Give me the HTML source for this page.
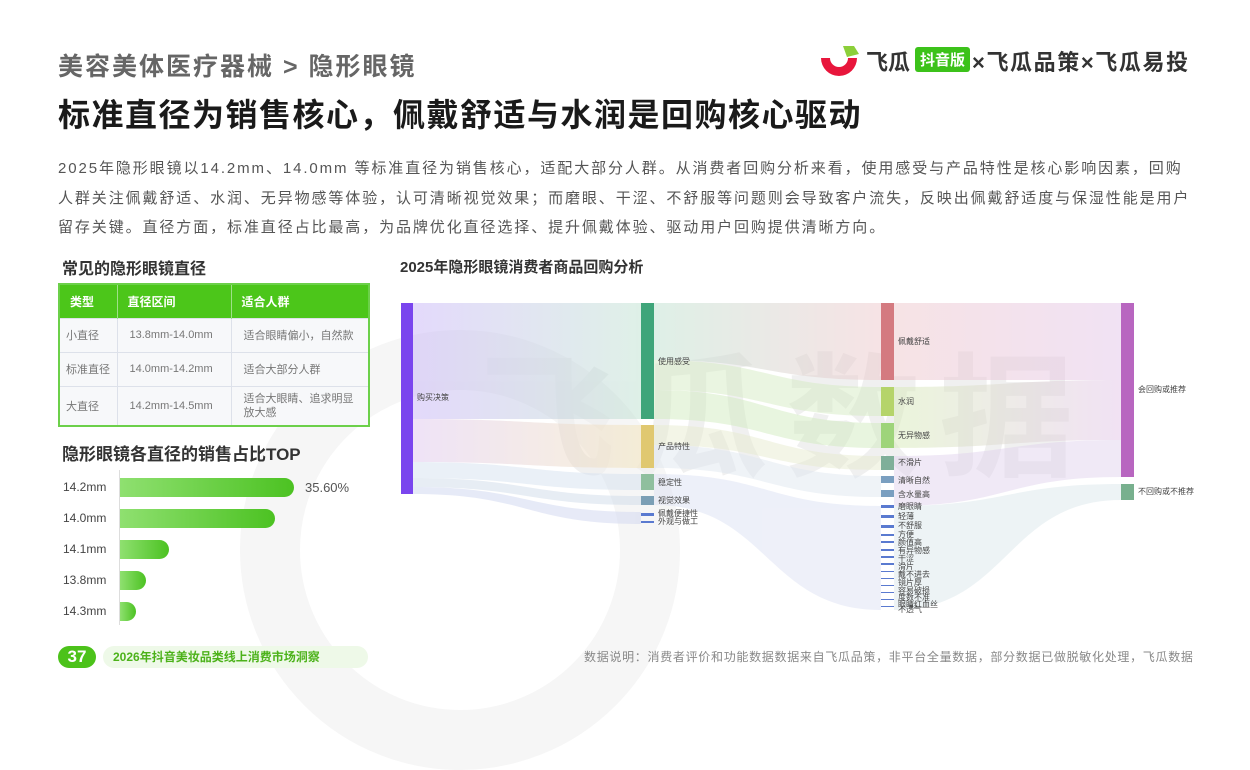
<!DOCTYPE html>
<html><head><meta charset="utf-8"><style>
*{margin:0;padding:0;box-sizing:border-box}
body{width:1250px;height:703px;background:#fff;font-family:"Liberation Sans","Noto Sans CJK SC",sans-serif;position:relative;overflow:hidden;color:#333}
.a{position:absolute;white-space:nowrap}
table{border-collapse:collapse;position:absolute;left:58px;top:283px;width:312px;border:2px solid #6cd04a}
td{border:1px solid #dde1ea;font-size:11px;color:#777;padding-left:6px;background:#f7f8fa}
th{background:#4cc61a;color:#fff;font-size:12px;text-align:left;padding-left:10px;height:34px;border-right:1px solid #9fe08a}
.bar{position:absolute;left:120px;height:19px;border-radius:0 10px 10px 0;background:linear-gradient(90deg,#8fe070,#4cc222)}
.bl{position:absolute;left:63px;font-size:12px;color:#444}
</style></head><body>
<div class="a" style="left:240px;top:330px;width:440px;height:440px;border-radius:50%;border:60px solid #f6f6f6;z-index:0"></div>
<div class="a" style="left:480px;top:345px;font-size:135px;line-height:150px;font-weight:bold;color:#f0f0f0;letter-spacing:18px;z-index:0">飞瓜数据</div>

<div class="a" style="left:58px;top:47px;font-size:25px;font-weight:bold;color:#666;letter-spacing:2px">美容美体医疗器械 &gt; 隐形眼镜</div>
<div class="a" style="left:58px;top:90px;font-size:32px;font-weight:bold;color:#1a1a1a;letter-spacing:1.5px">标准直径为销售核心，佩戴舒适与水润是回购核心驱动</div>
<div class="a" style="left:819px;top:44px;width:40px;height:32px">
<svg width="42" height="34"><path d="M2 14 A18 18 0 0 0 38 14 L29 14 A9 9 0 0 1 11 14 Z" fill="#e8163c"/><path d="M24 2 L35 2 L40 10 L28 13 Z" fill="#8ccf3a"/></svg></div>
<div class="a" style="left:866px;top:45px;font-size:22px;font-weight:bold;color:#333">飞瓜</div>
<div class="a" style="left:915px;top:47px;background:#3cc21a;color:#fff;font-size:15px;font-weight:bold;padding:2px 5px;border-radius:3px">抖音版</div>
<div class="a" style="left:972px;top:45px;font-size:22px;font-weight:bold;color:#333;letter-spacing:1.6px">×飞瓜品策×飞瓜易投</div>

<div class="a" style="left:58px;top:154px;width:1140px;white-space:normal;font-size:15px;line-height:29.5px;color:#555;letter-spacing:1.9px">2025年隐形眼镜以14.2mm、14.0mm 等标准直径为销售核心，适配大部分人群。从消费者回购分析来看，使用感受与产品特性是核心影响因素，回购人群关注佩戴舒适、水润、无异物感等体验，认可清晰视觉效果；而磨眼、干涩、不舒服等问题则会导致客户流失，反映出佩戴舒适度与保湿性能是用户留存关键。直径方面，标准直径占比最高，为品牌优化直径选择、提升佩戴体验、驱动用户回购提供清晰方向。</div>

<div class="a" style="left:62px;top:255px;font-size:16px;font-weight:bold;color:#333">常见的隐形眼镜直径</div>
<table>
<tr><th style="width:58px">类型</th><th style="width:114px">直径区间</th><th>适合人群</th></tr>
<tr style="height:34px"><td>小直径</td><td style="padding-left:12px">13.8mm-14.0mm</td><td style="padding-left:12px">适合眼睛偏小，自然款</td></tr>
<tr style="height:34px"><td>标准直径</td><td style="padding-left:12px">14.0mm-14.2mm</td><td style="padding-left:12px">适合大部分人群</td></tr>
<tr style="height:40px"><td>大直径</td><td style="padding-left:12px">14.2mm-14.5mm</td><td style="padding-left:12px;white-space:normal;line-height:14px">适合大眼睛、追求明显<br>放大感</td></tr>
</table>
<div class="a" style="left:62px;top:440px;font-size:17px;font-weight:bold;color:#333">隐形眼镜各直径的销售占比TOP</div>
<div class="a" style="left:119px;top:470px;width:1px;height:155px;background:#ddd"></div>
<div class="bl" style="top:480px">14.2mm</div><div class="bar" style="top:478px;width:174px"></div><div class="a" style="left:305px;top:480px;font-size:13px;color:#555">35.60%</div>
<div class="bl" style="top:511px">14.0mm</div><div class="bar" style="top:509px;width:155px"></div>
<div class="bl" style="top:542px">14.1mm</div><div class="bar" style="top:540px;width:49px"></div>
<div class="bl" style="top:573px">13.8mm</div><div class="bar" style="top:571px;width:26px"></div>
<div class="bl" style="top:604px">14.3mm</div><div class="bar" style="top:602px;width:16px"></div>

<div class="a" style="left:58px;top:646px;width:38px;height:22px;border-radius:11px;background:#4cc21a;color:#fff;font-weight:bold;font-size:17px;text-align:center;line-height:22px">37</div>
<div class="a" style="left:103px;top:646px;width:265px;height:22px;border-radius:11px;background:#eef9e8;color:#4cb21a;font-weight:bold;font-size:12px;line-height:22px;padding-left:10px">2026年抖音美妆品类线上消费市场洞察</div>
<div class="a" style="left:584px;top:648px;font-size:12px;color:#888;letter-spacing:0.7px">数据说明：消费者评价和功能数据数据来自飞瓜品策，非平台全量数据，部分数据已做脱敏化处理，飞瓜数据</div>

<div class="a" style="left:400px;top:256px;font-size:15px;font-weight:bold;color:#333">2025年隐形眼镜消费者商品回购分析</div>

<svg class="a" style="left:0;top:0" width="1250" height="703" font-family="Liberation Sans,Noto Sans CJK SC,sans-serif" font-size="8" fill="#444">
<defs>
<linearGradient id="g1"><stop offset="0" stop-color="#c8b4f8"/><stop offset="1" stop-color="#bfe2d0"/></linearGradient>
<linearGradient id="g2"><stop offset="0" stop-color="#e0c8f0"/><stop offset="1" stop-color="#f3e4b8"/></linearGradient>
<linearGradient id="g3"><stop offset="0" stop-color="#bfe2d0"/><stop offset="1" stop-color="#efc8cc"/></linearGradient>
<linearGradient id="g4"><stop offset="0" stop-color="#efc8cc"/><stop offset="1" stop-color="#e4c6ea"/></linearGradient>
<linearGradient id="g5"><stop offset="0" stop-color="#d8ecb8"/><stop offset="1" stop-color="#e4c6ea"/></linearGradient>
</defs>
<g opacity="0.5">
<path d="M413 303 L641 303 L641 419 L413 419Z" fill="url(#g1)"/>
<path d="M413 419 C527 419 527 425 641 425 L641 468 C527 468 527 462 413 462Z" fill="url(#g2)"/>
<path d="M413 462 C527 462 527 474 641 474 L641 490 C527 490 527 478 413 478Z" fill="#d6e2f0"/>
<path d="M413 478 C527 478 527 496 641 496 L641 505 C527 505 527 487 413 487Z" fill="#d0dcea"/>
<path d="M413 487 C527 487 527 512 641 512 L641 524 C527 524 527 494 413 494Z" fill="#cfd6f0"/>
<path d="M654 303 L881 303 L881 380 C767 380 767 360 654 360Z" fill="url(#g3)"/>
<path d="M654 360 C767 360 767 387 881 387 L881 416 C767 416 767 390 654 390Z" fill="#d6ecc4"/>
<path d="M654 390 C767 390 767 423 881 423 L881 448 C767 448 767 419 654 419Z" fill="#d2ecc0"/>
<path d="M654 425 C767 425 767 456 881 456 L881 470 C767 470 767 445 654 445Z" fill="#e8ecd0"/>
<path d="M654 445 C767 445 767 476 881 476 L881 497 C767 497 767 468 654 468Z" fill="#e0e8f0"/>
<path d="M654 474 C767 474 767 506 881 506 L881 610 C767 610 767 505 654 505Z" fill="#dde2f4"/>
<path d="M894 303 L1121 303 L1121 380 L894 380Z" fill="url(#g4)"/>
<path d="M894 387 C1007 387 1007 380 1121 380 L1121 440 C1007 440 1007 448 894 448Z" fill="url(#g5)"/>
<path d="M894 456 C1007 456 1007 440 1121 440 L1121 477 C1007 477 1007 506 894 506Z" fill="#e2d4ee"/>
<path d="M894 506 C1007 506 1007 484 1121 484 L1121 500 C1007 500 1007 610 894 610Z" fill="#dce8ec"/>
</g>
<rect x="401" y="303" width="12" height="191" fill="#7a45ee"/>
<rect x="641" y="303" width="13" height="116" fill="#3fa57a"/>
<rect x="641" y="425" width="13" height="43" fill="#e0c870"/>
<rect x="641" y="474" width="13" height="16" fill="#8fbf9e"/>
<rect x="641" y="496" width="13" height="9" fill="#7b9fb5"/>
<rect x="641" y="513" width="13" height="3" fill="#5a7ad0"/>
<rect x="641" y="521" width="13" height="2" fill="#5a7ad0"/>
<rect x="881" y="303" width="13" height="77" fill="#d47a80"/>
<rect x="881" y="387" width="13" height="29" fill="#b5d46a"/>
<rect x="881" y="423" width="13" height="25" fill="#9ed47a"/>
<rect x="881" y="456" width="13" height="14" fill="#7faf99"/>
<rect x="881" y="476" width="13" height="7" fill="#7a9fc0"/>
<rect x="881" y="490" width="13" height="7" fill="#7a9fc0"/>
<g fill="#5a7ad0"><rect x="881" y="505" width="13" height="3"/><rect x="881" y="515" width="13" height="3"/><rect x="881" y="525" width="13" height="3"/><rect x="881" y="534" width="13" height="2"/><rect x="881" y="541" width="13" height="2"/><rect x="881" y="549" width="13" height="2"/><rect x="881" y="556" width="13" height="2"/><rect x="881" y="563" width="13" height="2"/><rect x="881" y="571" width="13" height="1"/><rect x="881" y="578" width="13" height="1"/><rect x="881" y="585" width="13" height="1"/><rect x="881" y="592" width="13" height="1"/><rect x="881" y="599" width="13" height="1"/><rect x="881" y="606" width="13" height="1"/></g>
<rect x="1121" y="303" width="13" height="174" fill="#b866c0"/>
<rect x="1121" y="484" width="13" height="16" fill="#78b08e"/>
<text x="417" y="400">购买决策</text>
<text x="658" y="364">使用感受</text>
<text x="658" y="449">产品特性</text>
<text x="658" y="485">稳定性</text>
<text x="658" y="503">视觉效果</text>
<text x="658" y="516">佩戴便捷性</text>
<text x="658" y="524">外观与做工</text>
<text x="898" y="344">佩戴舒适</text>
<text x="898" y="404">水润</text>
<text x="898" y="438">无异物感</text>
<text x="898" y="465">不滑片</text>
<text x="898" y="483">清晰自然</text>
<text x="898" y="497">含水量高</text>
<text x="898" y="509">磨眼睛</text>
<text x="898" y="519">轻薄</text>
<text x="898" y="528">不舒服</text>
<text x="898" y="537">方便</text>
<text x="898" y="545">颜值高</text>
<text x="898" y="553">有异物感</text>
<text x="898" y="561">干涩</text>
<text x="898" y="569">滑片</text>
<text x="898" y="577">戴不进去</text>
<text x="898" y="585">镜片厚</text>
<text x="898" y="593">容易破损</text>
<text x="898" y="600">度数不准</text>
<text x="898" y="607">眼睛红血丝</text>
<text x="898" y="612">不透气</text>
<text x="1138" y="392">会回购或推荐</text>
<text x="1138" y="494">不回购或不推荐</text>
</svg>
</body></html>
